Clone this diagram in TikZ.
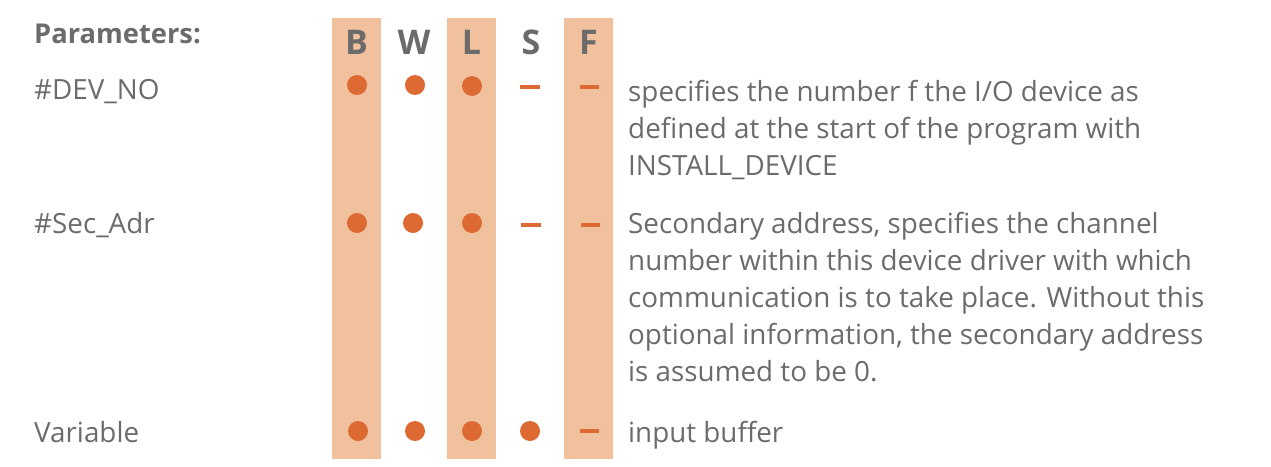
\documentclass[tikz,border=0pt]{standalone}
\usepackage{fontspec}
\setmainfont{Open Sans}
\begin{document}
\begin{tikzpicture}[x=1pt,y=-1pt,
  band/.style={fill=bandc,draw=none},
  dot/.style={circle,fill=dotc,draw=none,minimum size=20pt,inner sep=0pt},
  nodash/.style={draw=dotc,line width=3.2pt},
  txt/.style={anchor=base west,inner sep=0pt,text=txtc,font=\fontsize{27.8}{37}\selectfont},
  hdr/.style={anchor=base,inner sep=0pt,text=txtc,font=\fontsize{34}{40}\selectfont\bfseries},
  ttl/.style={anchor=base west,inner sep=0pt,text=txtc,font=\fontsize{27.3}{37}\selectfont\bfseries}]
\definecolor{bandc}{HTML}{F1C19E}
\definecolor{dotc}{HTML}{DD6A32}
\definecolor{txtc}{HTML}{6B6B6B}
\useasboundingbox (0,0) rectangle (1271,466);
% bands
\fill[band] (332,18) rectangle (381,459);
\fill[band] (447,18) rectangle (496,459);
\fill[band] (564,18) rectangle (613,459);
% headers
\node[ttl] (par) at (34,43) {Parameters:};
\node[hdr] (hB) at (356.5,54) {B};
\node[hdr] (hW) at (414,54) {W};
\node[hdr] (hL) at (471.5,54) {L};
\node[hdr] (hS) at (531,54) {S};
\node[hdr] (hF) at (588.5,54) {F};
% row 1
\node[txt] (r1) at (34,99) {\#DEV\_NO};
\node[dot] (d1b) at (357,85) {};
\node[dot] (d1w) at (415,85) {};
\node[dot] (d1l) at (472,86) {};
\coordinate (s1a) at (520,87); \coordinate (s1b) at (540,87);
\draw[nodash] (s1a) -- (s1b);
\coordinate (f1a) at (580,87); \coordinate (f1b) at (599,87);
\draw[nodash] (f1a) -- (f1b);
\node[txt] (t1a) at (628,101) {specifies the number f the I/O device as};
\node[txt] (t1b) at (628,138) {defined at the start of the program with};
\node[txt] (t1c) at (628,175) {INSTALL\_DEVICE};
% row 2
\node[txt] (r2) at (34,233) {\#Sec\_Adr};
\node[dot] (d2b) at (357,223) {};
\node[dot] (d2w) at (413,223) {};
\node[dot] (d2l) at (472,223) {};
\coordinate (s2a) at (521,225); \coordinate (s2b) at (541,225);
\draw[nodash] (s2a) -- (s2b);
\coordinate (f2a) at (581,225); \coordinate (f2b) at (600,225);
\draw[nodash] (f2a) -- (f2b);
\node[txt] (t2a) at (628,233) {Secondary address, specifies the channel};
\node[txt] (t2b) at (628,270) {number within this device driver with which};
\node[txt] (t2c) at (628,307) {communication is to take place. Without this};
\node[txt] (t2d) at (628,344) {optional information, the secondary address};
\node[txt] (t2e) at (628,381) {is assumed to be 0.};
% row 3
\node[txt] (r3) at (34,442) {Variable};
\node[dot] (d3b) at (358,431) {};
\node[dot] (d3w) at (415,431) {};
\node[dot] (d3l) at (472,431) {};
\node[dot] (d3s) at (530,431) {};
\coordinate (f3a) at (580,431); \coordinate (f3b) at (599,431);
\draw[nodash] (f3a) -- (f3b);
\node[txt] (t3a) at (628,442) {input buffer};
\end{tikzpicture}
\end{document}
